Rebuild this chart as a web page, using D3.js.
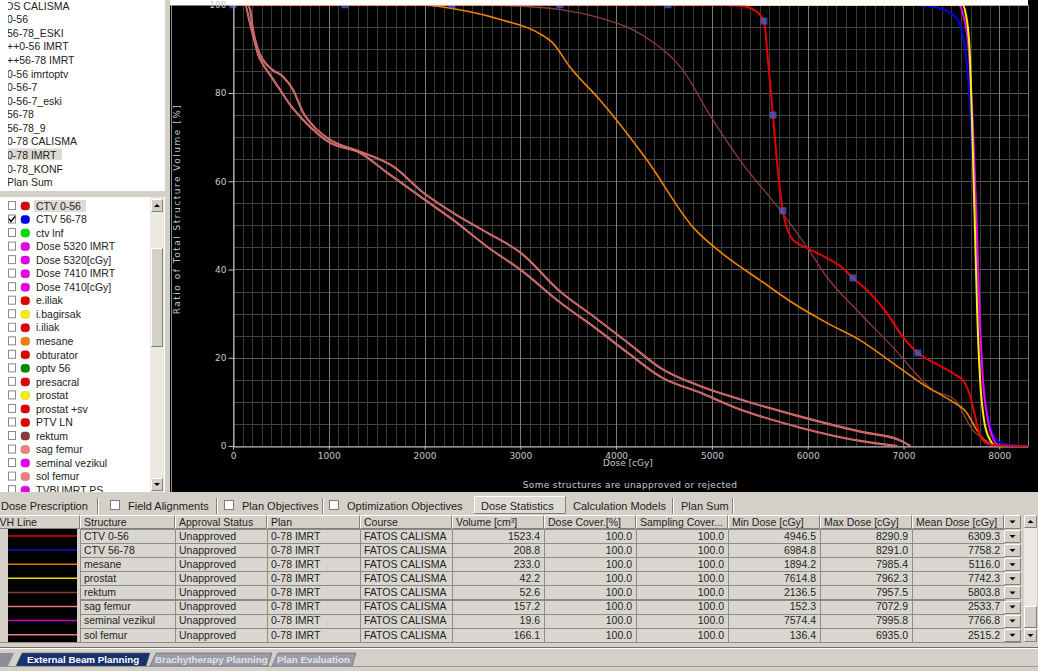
<!DOCTYPE html>
<html><head><meta charset="utf-8">
<script src="https://d3js.org/d3.v7.min.js"></script>
<style>
html,body{margin:0;padding:0;background:#d4d0c8;overflow:hidden}
svg{display:block}
</style></head>
<body>
<svg id="view" width="1038" height="671"></svg>
<script>
// ---------- plan tree and structure list ----------
const planNames = ["FATOS CALISMA","0-56","56-78_ESKI","++0-56 IMRT","++56-78 IMRT","0-56 imrtoptv","0-56-7","0-56-7_eski","56-78","56-78_9","0-78 CALISMA","0-78 IMRT","0-78_KONF","Plan Sum"];
const structureNames = ["CTV 0-56","CTV 56-78","ctv lnf","Dose 5320 IMRT","Dose 5320[cGy]","Dose 7410 IMRT","Dose 7410[cGy]","e.iliak","i.bagirsak","i.iliak","mesane","obturator","optv 56","presacral","prostat","prostat +sv","PTV LN","rektum","sag femur","seminal vezikul","sol femur","TVBUMRT PS"];
const structureColors = ["#e00000","#0000e8","#00e000","#e800e8","#e800e8","#e800e8","#e800e8","#e00000","#f4f000","#e00000","#f08000","#e00000","#008800","#e00000","#f4f000","#e00000","#e00000","#8a3a3a","#f08080","#e800e8","#f08080","#e800e8"];
const structureChecked = ["CTV 56-78"];

// ---------- tabs ----------
const topTabs = ["Dose Prescription","Field Alignments","Plan Objectives","Optimization Objectives","Dose Statistics","Calculation Models","Plan Sum"];
const bottomTabs = ["External Beam Planning","Brachytherapy Planning","Plan Evaluation"];

// ---------- DVH axes ----------
const doseTicks = [0,1000,2000,3000,4000,5000,6000,7000,8000];
const volumeTicks = [0,20,40,60,80,100];

// ---------- DVH curves (dose cGy, volume %) ----------
const solFemurDose = [0,126,168,220,262,304,387,492,597,733,1015,1329,1612,1957,2302,2658,3003,3422,3768,4123,4469,4887,5233,5934,6562,6935];
const solFemurVol  = [100,100,96.6,92.1,88.7,86.8,84.1,80.7,77.3,73.9,68.7,66.4,61.9,56.5,51.2,45.1,39.9,32.4,27.0,21.1,15.6,12.0,8.8,4.1,1.1,0];
const sagFemurDose = [0,147,178,209,262,314,408,523,628,733,858,1015,1329,1675,1988,2302,2658,3003,3422,3768,4123,4469,4887,5233,5934,6562,6949,7073];
const sagFemurVol  = [100,100,98.9,94.3,89.8,87.5,85.3,83.7,80.7,75.5,72.1,69.4,66.7,63.3,57.4,52.8,48.3,43.8,34.9,29.3,23.4,17.6,13.5,11.0,6.6,3.2,1.4,0];
const rektumDose = [0,2136,2826,3422,3831,4175,4353,4697,4979,5292,5710,5992,6200,6545,6889,7307,7537,7724,7902,7957];
const rektumVol  = [100,100,99.8,98.9,97.0,94.3,92.0,85.2,75.0,64.8,53.5,45.1,38.3,30.1,22.4,12.7,10.4,3.6,0.7,0];
const mesaneDose = [0,1894,2474,2818,3173,3340,3518,3831,4322,4802,5157,5501,5846,6200,6545,6889,7244,7484,7662,7766,7871,7985];
const mesaneVol  = [100,100,98.4,96.5,93.8,91.3,85.9,78.4,64.8,49.6,42.8,37.6,32.4,27.9,24.0,18.8,13.4,10.4,7.5,3.6,0.7,0];
const ctv5678Dose = [0,6985,7250,7450,7560,7620,7680,7730,7770,7810,7860,7920,7990,8100,8291];
const ctv5678Vol  = [100,100,99.8,98.6,96.8,93.0,82.0,60.0,38.0,20.0,9.0,3.5,1.0,0.3,0];
const seminalDose = [0,7574,7620,7680,7730,7765,7795,7830,7880,7940,7996];
const seminalVol  = [100,100,98,90,70,50,30,15,6,1.5,0];
const prostatDose = [0,7615,7650,7690,7720,7745,7770,7800,7840,7900,7962];
const prostatVol  = [100,100,98,90,70,50,30,15,6,1.5,0];
const ctv056Dose = [0,4946,5292,5470,5543,5585,5637,5678,5741,5846,5992,6200,6367,6472,6649,6827,6994,7150,7307,7516,7641,7693,7745,7797,7881,8006,8291];
const ctv056Vol  = [100,100,99.8,98.4,96.3,87.5,75.0,64.8,53.3,46.7,44.9,42.6,40.3,38.1,34.7,30.1,24.7,21.1,19.0,16.5,14.3,11.6,7.0,2.5,0.5,0.1,0];

// square markers along the selected curve
const markerDose = [0,1169,2286,3413,4541,5543,5637,5741,6472,7150];
const markerVol  = [100,100,100,100,100,96.3,75.0,53.3,38.1,21.1];

// ---------- dose statistics table ----------
const tableHeaders = ["DVH Line","Structure","Approval Status","Plan","Course","Volume [cm³]","Dose Cover.[%]","Sampling Cover...","Min Dose [cGy]","Max Dose [cGy]","Mean Dose [cGy]"];
const tableStructures = ["CTV 0-56","CTV 56-78","mesane","prostat","rektum","sag femur","seminal vezikul","sol femur"];
const tableLineColors = ["#e00000","#1010d0","#e07800","#e8e000","#8a3a3a","#e87878","#d000d0","#e87878"];
const tableApproval = ["Unapproved","Unapproved","Unapproved","Unapproved","Unapproved","Unapproved","Unapproved","Unapproved"];
const tablePlan = ["0-78 IMRT","0-78 IMRT","0-78 IMRT","0-78 IMRT","0-78 IMRT","0-78 IMRT","0-78 IMRT","0-78 IMRT"];
const tableCourse = ["FATOS CALISMA","FATOS CALISMA","FATOS CALISMA","FATOS CALISMA","FATOS CALISMA","FATOS CALISMA","FATOS CALISMA","FATOS CALISMA"];
const tableVolume = [1523.4,208.8,233.0,42.2,52.6,157.2,19.6,166.1];
const tableDoseCover = [100.0,100.0,100.0,100.0,100.0,100.0,100.0,100.0];
const tableSamplingCover = [100.0,100.0,100.0,100.0,100.0,100.0,100.0,100.0];
const tableMinDose = [4946.5,6984.8,1894.2,7614.8,2136.5,152.3,7574.4,136.4];
const tableMaxDose = [8290.9,8291.0,7985.4,7962.3,7957.5,7072.9,7995.8,6935.0];
const tableMeanDose = [6309.3,7758.2,5116.0,7742.3,5803.8,2533.7,7766.8,2515.2];

// =====================================================================
const svg = d3.select("#view");
const uiFont = "'Liberation Sans', Arial, sans-serif";
const chartFont = "'DejaVu Sans', sans-serif";
const UI = "#d4d0c8";
const defs = svg.append("defs");

svg.append("rect").attr("width",1038).attr("height",671).attr("fill",UI);

function clip(id, x, y, w, h) {
  defs.append("clipPath").attr("id", id).append("rect")
    .attr("x", x).attr("y", y).attr("width", w).attr("height", h);
  return `url(#${id})`;
}
function bevel(g, x, y, w, h, fill, sunken) {
  g.append("rect").attr("x",x).attr("y",y).attr("width",w).attr("height",h).attr("fill",fill);
  const lt = sunken ? "#808080" : "#ffffff", rb = sunken ? "#ffffff" : "#808080";
  g.append("path").attr("d",`M${x+.5},${y+h-.5}V${y+.5}H${x+w-.5}`).attr("fill","none").attr("stroke",lt);
  g.append("path").attr("d",`M${x+.5},${y+h-.5}H${x+w-.5}V${y+.5}`).attr("fill","none").attr("stroke",rb);
}
function arrow(g, cx, cy, up) {
  const s = up ? -1 : 1;
  g.append("path").attr("d",`M${cx-3},${cy-1.5*s}L${cx+3},${cy-1.5*s}L${cx},${cy+1.5*s}Z`).attr("fill","#000");
}

// ---------------- plan tree ----------------
const plans = svg.append("g");
plans.append("rect").attr("x",0).attr("y",0).attr("width",166).attr("height",191).attr("fill","#fff");
const planRowY = i => 6 + i * 13.58;
plans.append("rect").attr("x",8).attr("y",148.5).attr("width",54).attr("height",11.5).attr("fill","#dcd9d2");
plans.append("g").attr("clip-path", clip("cpPlans", 8, 0, 150, 191))
  .selectAll("text").data(planNames).join("text")
  .attr("x",(d,i)=> i === 0 ? -13 : 7).attr("y",(d,i)=>planRowY(i)).attr("dy","0.35em")
  .attr("font-family",uiFont).attr("font-size",10.5).attr("fill","#222").text(d=>d);

// ---------------- structure list ----------------
const list = svg.append("g");
list.append("rect").attr("x",0).attr("y",197).attr("width",166).attr("height",295).attr("fill","#fff");
const rowY = i => 206 + i * 13.53;
const items = list.append("g").attr("clip-path", clip("cpList", 0, 197, 150, 295));
items.append("rect").attr("x",34).attr("y",200).attr("width",52).attr("height",12).attr("fill","#dedbd4");
structureNames.forEach((name, i) => {
  const cy = rowY(i);
  items.append("rect").attr("x",8.5).attr("y",cy-4.5).attr("width",7).attr("height",8)
    .attr("fill","#fff").attr("stroke","#8a8a8a");
  if (structureChecked.includes(name)) {
    items.append("path").attr("d",`M9,${cy-1}L11,${cy+2}L15,${cy-3}`).attr("fill","none").attr("stroke","#000").attr("stroke-width",1.4);
  }
  items.append("rect").attr("x",21).attr("y",cy-4).attr("width",8.5).attr("height",8).attr("rx",3)
    .attr("fill",structureColors[i]).attr("stroke",d3.color(structureColors[i]).darker(0.6)).attr("stroke-width",0.5);
  items.append("text").attr("x",36).attr("y",cy).attr("dy","0.35em")
    .attr("font-family",uiFont).attr("font-size",10.5).attr("fill","#222").text(name);
});
// scrollbar
list.append("rect").attr("x",150).attr("y",197).attr("width",14).attr("height",295).attr("fill","#ece9e3");
bevel(list,151,199,12,13,UI,false); arrow(list,157,205.5,true);
bevel(list,151,248,12,99,UI,false);
bevel(list,151,478,12,13,UI,false); arrow(list,157,484.5,false);

// separators of the left panel
svg.append("rect").attr("x",0).attr("y",191).attr("width",168).attr("height",6).attr("fill",UI);
svg.append("rect").attr("x",165).attr("y",0).attr("width",5).attr("height",497).attr("fill",UI);

// ---------------- DVH chart ----------------
const chart = svg.append("g");
chart.append("rect").attr("x",170).attr("y",0).attr("width",868).attr("height",492).attr("fill","#000");
chart.append("line").attr("x1",171.5).attr("x2",171.5).attr("y1",4).attr("y2",492).attr("stroke","#8c8c8c");

const x = d3.scaleLinear().domain([0,8300]).range([233,1028]);
const y = d3.scaleLinear().domain([0,100]).range([446,4.75]);
const px = v => Math.round(v) + 0.5;

chart.append("g").selectAll("line").data(d3.range(0,101,5)).join("line")
  .attr("x1",x(0)).attr("x2",x(8300)).attr("y1",d=>px(y(d))).attr("y2",d=>px(y(d)))
  .attr("stroke",d=> d % 20 === 0 ? "#5a5a5a" : "#444");
chart.append("g").selectAll("line").data(d3.range(0,8301,100)).join("line")
  .attr("x1",d=>px(x(d))).attr("x2",d=>px(x(d))).attr("y1",y(0)).attr("y2",y(100))
  .attr("stroke",d=> d % 1000 === 0 || d === 8300 ? "#7c7c7c" : "#3a3a3a");

const xAxis = d3.axisBottom(x).tickValues(doseTicks).tickFormat(d3.format("d"))
  .tickSize(3).tickSizeOuter(0).tickPadding(3);
const gx = chart.append("g").attr("transform",`translate(0,${px(y(0))})`).call(xAxis);
const yAxis = d3.axisLeft(y).tickValues(volumeTicks).tickFormat(d3.format("d"))
  .tickSize(5).tickSizeOuter(0).tickPadding(2);
const gy = chart.append("g").attr("transform",`translate(${px(x(0))},0)`).call(yAxis);
[gx, gy].forEach(g => {
  g.select(".domain").attr("stroke","#c4c4c4");
  g.selectAll(".tick line").attr("stroke","#c4c4c4");
  g.selectAll(".tick text").attr("fill","#c8c8c8").attr("font-family",chartFont).attr("font-size",9);
});

chart.append("text").attr("x",603).attr("y",465.5).attr("font-family",chartFont).attr("font-size",9)
  .attr("fill","#c8c8c8").text("Dose [cGy]");
chart.append("text").attr("x",630).attr("y",488).attr("text-anchor","middle").attr("font-family",chartFont)
  .attr("font-size",9).attr("letter-spacing",0.35).attr("fill","#c8c8c8").text("Some structures are unapproved or rejected");
chart.append("text").attr("transform","translate(180,209) rotate(-90)").attr("text-anchor","middle")
  .attr("font-family",chartFont).attr("font-size",9).attr("letter-spacing",1.5).attr("fill","#c8c8c8")
  .text("Ratio of Total Structure Volume [%]");

const zip = (d, v) => d.map((dd, i) => [dd, v[i]]);
const line = d3.line().x(d => x(d[0])).y(d => y(d[1])).curve(d3.curveMonotoneX);
const curves = chart.append("g").attr("clip-path", clip("cpPlot", 233, 0, 797, 449));

function femur(data) {
  curves.append("path").attr("d", line(data)).attr("fill","none").attr("stroke","#e47c7c").attr("stroke-width",2.1);
  curves.append("path").attr("d", line(data)).attr("fill","none").attr("stroke","#a84444").attr("stroke-width",0.6);
}
femur(zip(solFemurDose, solFemurVol));
femur(zip(sagFemurDose, sagFemurVol));

const plain = [
  [zip(rektumDose, rektumVol), "#8c3c3c", 1.3],
  [zip(mesaneDose, mesaneVol), "#f08400", 1.6],
  [zip(ctv5678Dose, ctv5678Vol), "#0000f0", 2],
  [zip(seminalDose, seminalVol), "#f000f0", 2],
  [zip(prostatDose, prostatVol), "#f8f000", 2],
  [zip(ctv056Dose, ctv056Vol), "#e80000", 2]
];
plain.forEach(([data, color, w]) => {
  curves.append("path").attr("d", line(data)).attr("fill","none").attr("stroke",color).attr("stroke-width",w);
});

chart.append("g").selectAll("rect").data(zip(markerDose, markerVol)).join("rect")
  .attr("x",d=>x(d[0])-3.5).attr("y",d=>y(d[1])-3.5).attr("width",7).attr("height",7)
  .attr("fill","#5060c8").attr("fill-opacity",0.75);

// the window edge covers the top of the plot
chart.append("rect").attr("x",170).attr("y",0).attr("width",858).attr("height",5.5).attr("fill","#fff");
gy.raise();

// ---------------- property tabs ----------------
const tabs = svg.append("g").attr("font-family",uiFont).attr("font-size",11).attr("fill","#1e1e1e");
const tabText = [1,128,242,347,481,573,681];
const tabChecks = [null,110,224,329,null,null,null];
const tabSeps = [97,216,322,672,732];
topTabs.forEach((t,i) => {
  if (i === 4) { bevel(tabs,474,496,92,18,"#dedbd4",false); }
  if (tabChecks[i] !== null) {
    tabs.append("rect").attr("x",tabChecks[i]+.5).attr("y",500.5).attr("width",9).attr("height",9)
      .attr("fill","#fff").attr("stroke","#7a7a7a");
  }
  tabs.append("text").attr("x",tabText[i]).attr("y",509.5).text(t);
});
tabSeps.forEach(s => {
  tabs.append("line").attr("x1",s+.5).attr("x2",s+.5).attr("y1",498).attr("y2",514).attr("stroke","#808080");
  tabs.append("line").attr("x1",s+1.5).attr("x2",s+1.5).attr("y1",498).attr("y2",514).attr("stroke","#fff");
});

// ---------------- dose statistics table ----------------
const table = svg.append("g").attr("font-family",uiFont).attr("font-size",10.5).attr("fill","#1e1e1e");
const colEdges = [-12,80,175,267,360,452,544,636,728,820,912,1004];
const headY = 515, rowH = 14.1, firstRowY = 529;
tableHeaders.forEach((h,c) => {
  bevel(table, colEdges[c], headY, colEdges[c+1]-colEdges[c], 14, UI, false);
  table.append("text").attr("x", colEdges[c]+4).attr("y", headY+10.5).text(h);
});
bevel(table,1004,headY,17,14,UI,false); arrow(table,1012.5,headY+7,false);

const cellText = (r) => [
  null, tableStructures[r], tableApproval[r], tablePlan[r], tableCourse[r],
  tableVolume[r].toFixed(1), tableDoseCover[r].toFixed(1), tableSamplingCover[r].toFixed(1),
  tableMinDose[r].toFixed(1), tableMaxDose[r].toFixed(1), tableMeanDose[r].toFixed(1)
];
tableStructures.forEach((s,r) => {
  const ry = firstRowY + r*rowH;
  cellText(r).forEach((t,c) => {
    if (c === 0) return;
    table.append("rect").attr("x",colEdges[c]+.5).attr("y",Math.round(ry)+.5)
      .attr("width",colEdges[c+1]-colEdges[c]).attr("height",Math.round(rowH))
      .attr("fill","#d9d6d0").attr("stroke","#8e8c88");
    const numeric = c >= 5;
    table.append("text").attr("x", numeric ? colEdges[c+1]-4 : colEdges[c]+4)
      .attr("y", ry+10.8).attr("text-anchor", numeric ? "end" : "start").text(t);
  });
  bevel(table,1004,Math.round(ry)+1,17,13,UI,false); arrow(table,1012.5,ry+7.5,false);
});
// line-style column
table.append("rect").attr("x",0).attr("y",firstRowY).attr("width",80).attr("height",rowH*8+1).attr("fill",UI);
table.append("rect").attr("x",8).attr("y",firstRowY).attr("width",69).attr("height",rowH*8+1).attr("fill","#000");
table.append("g").selectAll("line").data(tableLineColors).join("line")
  .attr("x1",8).attr("x2",77).attr("y1",(d,i)=>firstRowY+i*rowH+7).attr("y2",(d,i)=>firstRowY+i*rowH+7)
  .attr("stroke",d=>d).attr("stroke-width",1.5);
table.append("line").attr("x1",0).attr("x2",1022).attr("y1",642.5).attr("y2",642.5).attr("stroke","#8e8c88");
// table scrollbar
table.append("rect").attr("x",1024).attr("y",515).attr("width",13).attr("height",127).attr("fill","#ece9e3");
bevel(table,1024,515,13,13,UI,false); arrow(table,1030.5,521.5,true);
bevel(table,1024,606,13,22,UI,false);
bevel(table,1024,629,13,13,UI,false); arrow(table,1030.5,635.5,false);

// ---------------- workspace tabs ----------------
const ws = svg.append("g").attr("font-family",uiFont).attr("font-size",9.8).attr("font-weight","bold");
ws.append("line").attr("x1",0).attr("x2",1038).attr("y1",647.5).attr("y2",647.5).attr("stroke","#6c6c6c");
ws.append("line").attr("x1",0).attr("x2",1038).attr("y1",648.5).attr("y2",648.5).attr("stroke","#fff");
ws.append("path").attr("d","M0,666L0,653L14,653L8,666Z").attr("fill","#8e8e9a");
const wsTabs = [[16,150],[150,272],[272,356]];
bottomTabs.forEach((t,i) => {
  const [a,b] = wsTabs[i];
  const active = i === 0;
  ws.append("path").attr("d",`M${a},666L${a+6},653L${b},653L${b-4},666Z`)
    .attr("fill", active ? "#17306e" : "#9c9ca6").attr("stroke","#5a5a66").attr("stroke-width",0.6);
  ws.append("text").attr("x",a+(active ? 11 : 5)).attr("y",663)
    .attr("fill", active ? "#ffffff" : "#e2e2ea").text(t);
});
ws.append("line").attr("x1",0).attr("x2",1038).attr("y1",666.5).attr("y2",666.5).attr("stroke","#9a9a9a");
</script>
</body></html>
